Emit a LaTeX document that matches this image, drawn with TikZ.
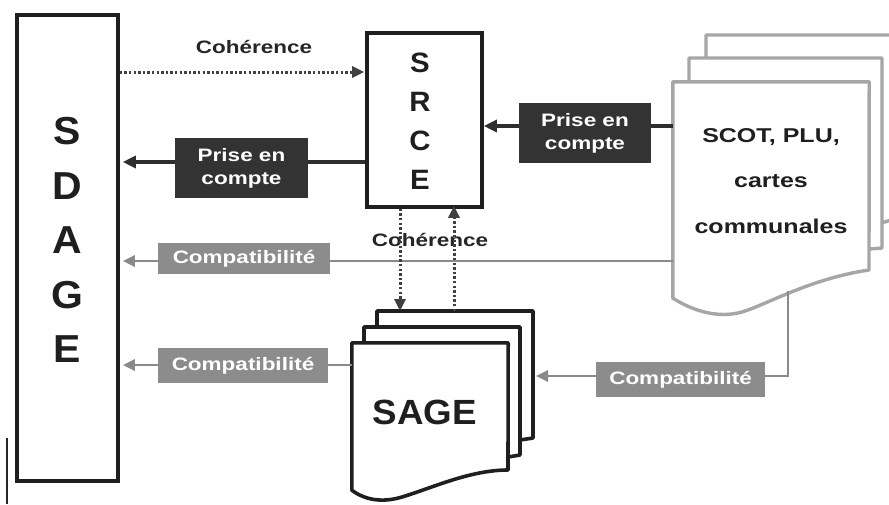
\documentclass[tikz,border=0pt]{standalone}
\usepackage{fontspec}
\setmainfont{Liberation Sans}[FakeStretch=1.25]
\newfontfamily\bigsans{Liberation Sans}[FakeStretch=1.05]
\usetikzlibrary{arrows.meta}
\definecolor{cBoxDark}{HTML}{333333}
\definecolor{cBoxGray}{HTML}{8C8C8C}
\definecolor{cLineDark}{HTML}{2E2E2E}
\definecolor{cLineGray}{HTML}{8A8A8A}
\definecolor{cDocGray}{HTML}{A6A6A6}
\begin{document}
\begin{tikzpicture}[x=1pt,y=-1pt,
  frame/.style={draw=black!88, line width=3.6pt, inner sep=0pt},
  docgray/.style={draw=cDocGray, line width=3.4pt, fill=white, line join=round},
  docblack/.style={draw=black!88, line width=3.6pt, fill=white, line join=round},
  lbl/.style={font=\bfseries\fontsize{18}{23}\selectfont, text=white, inner sep=0pt, align=center},
  darklbl/.style={lbl, fill=cBoxDark},
  graylbl/.style={lbl, fill=cBoxGray},
  plaintext/.style={font=\bfseries\fontsize{18}{23}\selectfont, text=black!85, inner sep=0pt},
  bigletters/.style={font=\bigsans\bfseries, text=black!88, inner sep=0pt, align=center},
  darkconn/.style={draw=cLineDark, line width=3.2pt},
  darkarrow/.style={darkconn, -{Triangle[length=13pt,width=12pt]}},
  grayconn/.style={draw=cLineGray, line width=2.6pt},
  grayarrow/.style={grayconn, -{Triangle[length=12pt,width=11pt]}},
  dotarrow/.style={draw=black!75, line width=3pt, dash pattern=on 2.4pt off 2.2pt, -{Triangle[length=12pt,width=11pt]}}
  ]
\useasboundingbox (0,0) rectangle (889,504);
\fill[white] (0,0) rectangle (889,504);
\clip (0,0) rectangle (889,504);

% stray border line at left
\draw[black!85, line width=1.8pt] (7,438) -- (7,504);

% SDAGE
\node[frame, minimum width=101pt, minimum height=466pt] (sdage) at (67.5,248) {};
\node[bigletters, font=\bigsans\bfseries\fontsize{39}{54.5}\selectfont] (sdagetxt) at (67,240) {S\\D\\A\\G\\E};

% SRCE
\node[frame, minimum width=115pt, minimum height=174pt] (srce) at (424.5,120) {};
\node[bigletters, font=\bigsans\bfseries\fontsize{28}{39}\selectfont] (srcetxt) at (420,121.5) {S\\R\\C\\E};

% SCOT documents (gray)
\draw[docgray] (706,230) -- (706,35) -- (905,35) -- (905,215) .. controls (895,218) .. (885,222) -- (706,230);
\draw[docgray] (689,260) -- (689,58) -- (882,58) -- (882,248) -- (869,249) -- (689,260);
\node[inner sep=0pt, minimum width=196pt, minimum height=216pt] (scot) at (771,190) {};
\draw[docgray] (scot.south west) -- (scot.north west) -- (scot.north east) -- (869,270)
  .. controls (815,278) and (775,300) .. (748,310)
  .. controls (722,320) and (695,312) .. (scot.south west) -- cycle;
\node[font=\bfseries\fontsize{20}{45.5}\selectfont, text=black!88, align=center, inner sep=0pt] (scottxt) at (771,181) {SCOT, PLU,\\cartes\\communales};
\coordinate (scotfoot) at (788,291);

% SAGE documents (black)
\draw[docblack] (377,420) -- (377,311) -- (533,311) -- (533,438) -- (520,440) -- (377,450);
\draw[docblack] (364,460) -- (364,327) -- (520,327) -- (520,455) -- (508,457) -- (364,465);
\node[inner sep=0pt, minimum width=156pt, minimum height=147pt] (sage) at (430,416.5) {};
\draw[docblack] (sage.south west) -- (sage.north west) -- (sage.north east) -- (508,470)
  .. controls (470,470) and (432,488) .. (402,497)
  .. controls (382,503) and (365,500) .. (sage.south west) -- cycle;
\node[font=\bigsans\bfseries\fontsize{35}{40}\selectfont, text=black!88, inner sep=0pt] (sagetxt) at (425,412.5) {SAGE};
\coordinate (sagetop) at (400,311);
\coordinate (sagetopr) at (454,311);
\coordinate (sageback) at (533,375);

% labels
\node[plaintext] (coh1) at (254,47) {Cohérence};
\node[darklbl, minimum width=133pt, minimum height=60pt] (pc1) at (241.5,168) {Prise en\\compte};
\node[darklbl, minimum width=132pt, minimum height=60pt] (pc2) at (585,133) {Prise en\\compte};
\node[graylbl, minimum width=172pt, minimum height=31pt] (cp1) at (244,258.5) {Compatibilité};
\node[graylbl, minimum width=170pt, minimum height=35pt] (cp2) at (243,365.5) {Compatibilité};
\node[graylbl, minimum width=169pt, minimum height=35pt] (cp3) at (680.5,379.5) {Compatibilité};

% helper heights
\coordinate (h72) at (0,72);
\coordinate (h162) at (0,162);
\coordinate (h126) at (0,126);
\coordinate (h261) at (0,261);
\coordinate (h365) at (0,365);
\coordinate (h376) at (0,376);

% connectors
\draw[dotarrow] (sdage.east |- h72) -- ([xshift=-1pt]srce.west |- h72);
\draw[darkconn] (srce.west |- h162) -- (pc1.east |- h162);
\draw[darkarrow] (pc1.west |- h162) -- ([xshift=3pt]sdage.east |- h162);
\draw[darkconn] (scot.west |- h126) -- (pc2.east |- h126);
\draw[darkarrow] (pc2.west |- h126) -- (srce.east |- h126);
\draw[grayconn] (scot.west |- h261) -- (cp1.east |- h261);
\draw[grayarrow] (cp1.west |- h261) -- ([xshift=3pt]sdage.east |- h261);
\draw[grayconn] (sage.west |- h365) -- (cp2.east |- h365);
\draw[grayarrow] (cp2.west |- h365) -- ([xshift=3pt]sdage.east |- h365);
\draw[grayconn] (scotfoot) -- (scotfoot |- h376) -- (cp3.east |- h376);
\draw[grayarrow] (cp3.west |- h376) -- ([xshift=3pt]sageback |- h376);

% vertical coherence arrows
\node[plaintext] (coh2) at (430,240) {Cohérence};
\draw[dotarrow] (srce.south -| sagetop) -- (sagetop);
\draw[dotarrow] (sagetopr) -- ([yshift=3pt]srce.south -| sagetopr);
\end{tikzpicture}
\end{document}
